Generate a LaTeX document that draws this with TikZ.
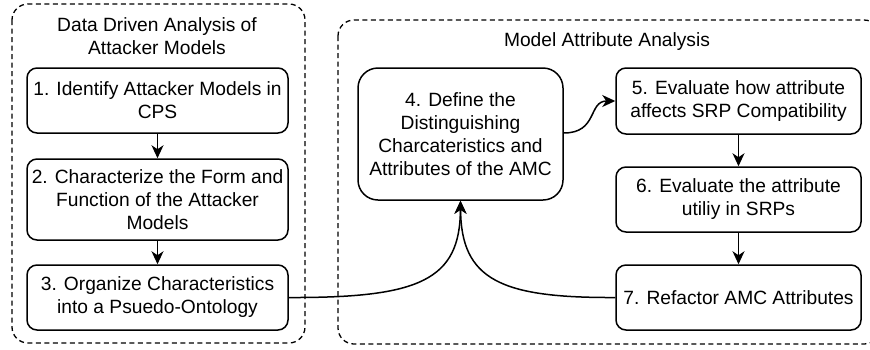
\documentclass[tikz,border=0pt]{standalone}
\usepackage{fontspec}
\setmainfont{Liberation Sans}
\usetikzlibrary{arrows.meta}
\begin{document}
\begin{tikzpicture}[x=1pt,y=-1pt,
  stepbox/.style={draw,line width=1.5pt,rounded corners=10pt,align=center,inner sep=0pt,
    font=\fontsize{19.2}{23}\selectfont},
  group/.style={draw,line width=1.3pt,dash pattern=on 5pt off 3.5pt,rounded corners=16pt},
  title/.style={align=center,font=\fontsize{19.2}{23}\selectfont},
  conn/.style={line width=1.5pt,-{Stealth[length=13pt,width=12pt,inset=4pt]}}]
\useasboundingbox (0,0) rectangle (870,349);
\begin{scope}
\clip (0,0) rectangle (870,349);
\draw[group] (12,4) rectangle (305,343);
\draw[group] (338,20) rectangle (880,344);
\end{scope}
\node[title] (t1) at (157,36) {Data Driven Analysis of\\Attacker Models};
\node[title] (t2) at (607,42) {Model Attribute Analysis};
\node[stepbox,minimum width=261pt,minimum height=65pt] (b1) at (157.5,100.5) {1. Identify Attacker Models in\\CPS};
\node[stepbox,minimum width=261pt,minimum height=81pt] (b2) at (157.5,199.5) {2. Characterize the Form and\\Function of the Attacker\\Models};
\node[stepbox,minimum width=261pt,minimum height=65pt] (b3) at (157.5,297.5) {3. Organize Characteristics\\into a Psuedo-Ontology};
\node[stepbox,rounded corners=20pt,minimum width=205pt,minimum height=132pt] (b4) at (460.5,134) {4. Define the\\Distinguishing\\Charcateristics and\\Attributes of the AMC};
\node[stepbox,minimum width=245pt,minimum height=66pt] (b5) at (738.5,101) {5. Evaluate how attribute\\affects SRP Compatibility};
\node[stepbox,minimum width=245pt,minimum height=65pt] (b6) at (738.5,199.5) {6. Evaluate the attribute\\utiliy in SRPs};
\node[stepbox,minimum width=245pt,minimum height=65pt] (b7) at (738.5,297.5) {7. Refactor AMC Attributes};
\draw[conn] (b1) -- (b2);
\draw[conn] (b2) -- (b3);
\draw[conn] (b5) -- (b6);
\draw[conn] (b6) -- (b7);
\draw[conn] (b4.east |- 0,133) .. controls (598,133) and (588,101) .. (b5.west |- 0,101);
\draw[conn] (b3.east) .. controls (420,298) and (460,280) .. (b4.south);
\draw[conn] (b7.west) .. controls (501,298) and (461,280) .. (b4.south);
\end{tikzpicture}
\end{document}
